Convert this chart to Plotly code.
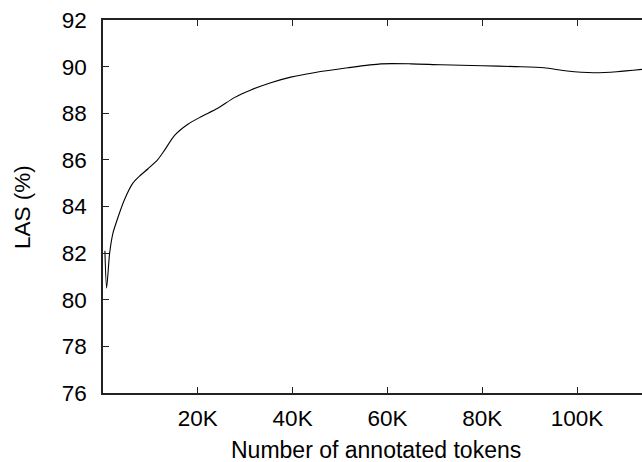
import plotly.graph_objects as go

# Data
tokens = [400, 760, 1400, 2100, 3200, 4500, 6300, 7700, 9500, 11500, 13000,
          15100, 17900, 20700, 24200, 27700, 31200, 35400, 39600, 44500,
          51600, 58600, 65000, 71200, 80000, 87000, 93000, 97900, 103500,
          108400, 113700]
las = [82.1, 80.5, 82.0, 82.86, 83.56, 84.28, 85.0, 85.3, 85.62, 86.0, 86.42,
       87.05, 87.53, 87.85, 88.21, 88.67, 89.0, 89.31, 89.55, 89.74,
       89.95, 90.12, 90.12, 90.08, 90.04, 90.0, 89.95, 89.81, 89.74,
       89.78, 89.88]

x_tickvals = [20000, 40000, 60000, 80000, 100000]
x_ticktext = ["20K", "40K", "60K", "80K", "100K"]
y_tickvals = [76, 78, 80, 82, 84, 86, 88, 90, 92]

FONT = "Liberation Sans, Arial, sans-serif"
FS = 22.5
XRANGE = [0, 113700]

W, H = 642, 462
PL, PT, PB = 103, 20, 393          # plot edges in window pixels
pw = W - PL
ph = PB - PT

fig = go.Figure()
fig.add_trace(go.Scatter(
    x=tokens, y=las, mode="lines",
    line=dict(color="black", width=1.1, shape="spline", smoothing=0.7),
    showlegend=False, hoverinfo="skip",
))
# invisible trace carrying the top (mirrored) axis
fig.add_trace(go.Scatter(
    x=tokens, y=las, mode="lines", xaxis="x2",
    line=dict(color="rgba(0,0,0,0)", width=0),
    showlegend=False, hoverinfo="skip",
))

axis_common = dict(
    range=XRANGE, tickvals=x_tickvals,
    ticks="inside", ticklen=6, tickwidth=1, tickcolor="#222",
    showline=True, linecolor="#222", linewidth=1.5,
    showgrid=False, zeroline=False,
)

fig.update_layout(
    width=W, height=H,
    margin=dict(l=PL, r=0, t=PT, b=H - PB, pad=0),
    paper_bgcolor="white", plot_bgcolor="white",
    font=dict(family=FONT, size=FS, color="black"),
    showlegend=False,
    xaxis=dict(
        **axis_common,
        ticktext=x_ticktext,
        ticklabelstandoff=4, ticklabeloverflow="allow",
        tickfont=dict(family=FONT, size=FS, color="black"),
    ),
    xaxis2=dict(
        **axis_common,
        overlaying="x", side="top", showticklabels=False,
    ),
    yaxis=dict(
        range=[76, 92],
        tickvals=y_tickvals,
        ticks="inside", ticklen=6, tickwidth=1, tickcolor="#222",
        showline=True, linecolor="#222", linewidth=1.5,
        mirror=False, showgrid=False, zeroline=False,
        ticklabelstandoff=10, ticklabeloverflow="allow",
        tickfont=dict(family=FONT, size=FS, color="black"),
    ),
    annotations=[
        dict(text="Number of annotated tokens", xref="paper", yref="paper",
             x=(376 - PL) / pw, y=-(450 - PB) / ph,
             xanchor="center", yanchor="middle", showarrow=False,
             font=dict(family=FONT, size=23, color="black")),
        dict(text="LAS (%)", xref="paper", yref="paper",
             x=-(PL - 22) / pw, y=(PB - 207) / ph,
             xanchor="center", yanchor="middle", showarrow=False,
             textangle=-90,
             font=dict(family=FONT, size=FS, color="black")),
    ],
)

fig.write_html(
    "out.html",
    config={"displayModeBar": False},
    post_script="document.body.style.margin='0';document.body.style.overflow='hidden';",
)
